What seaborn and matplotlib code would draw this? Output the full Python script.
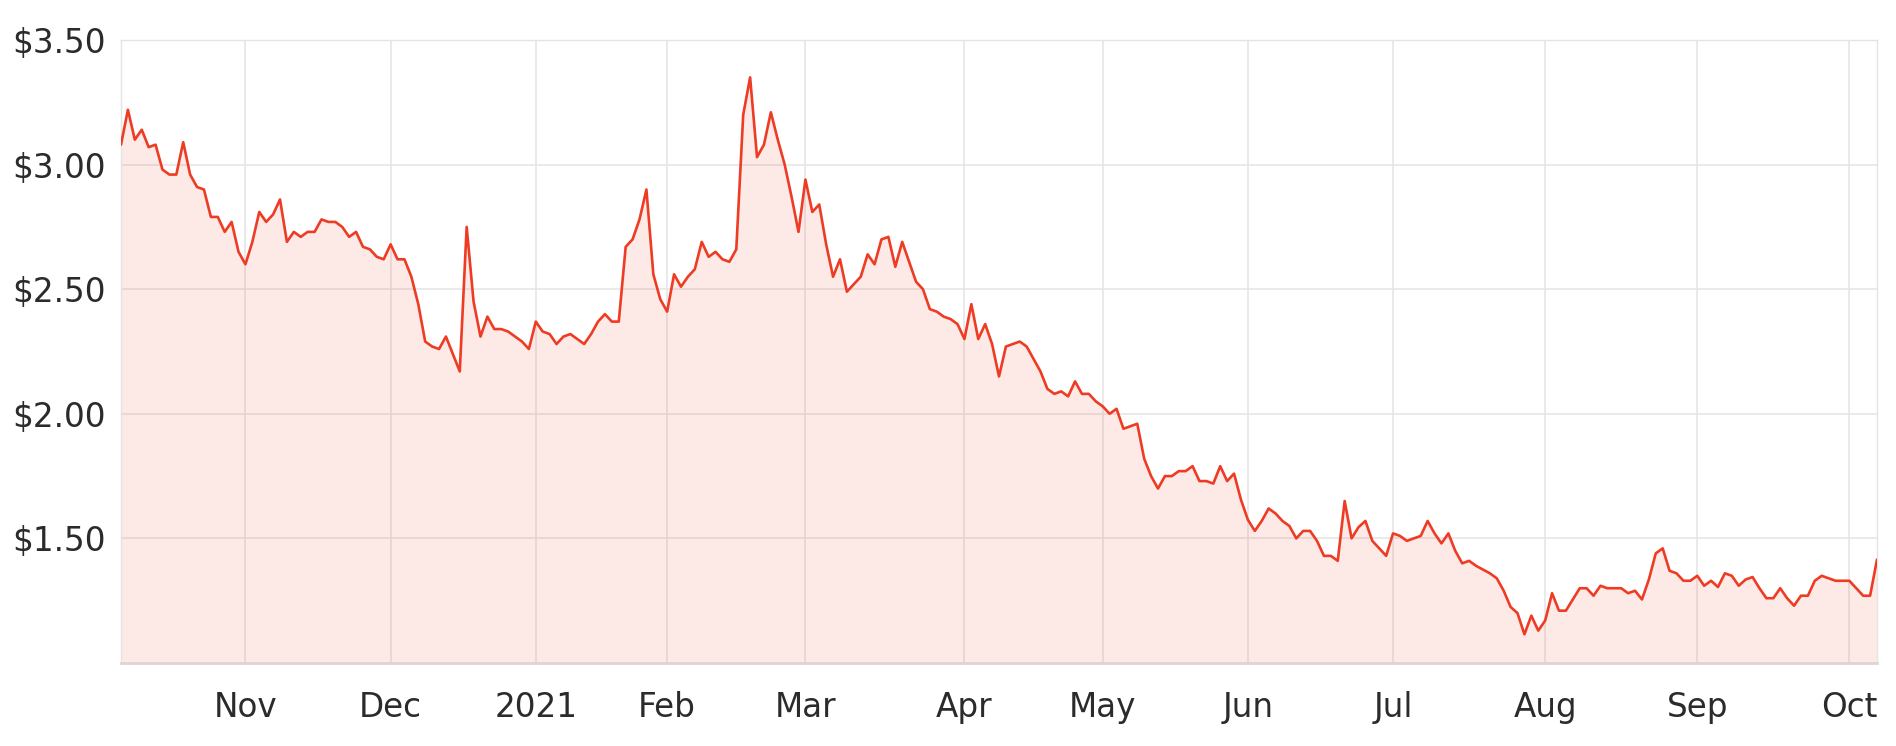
import numpy as np
import pandas as pd
import matplotlib
matplotlib.use("Agg")
import matplotlib.pyplot as plt
import seaborn as sns

# Daily closing prices (trading days), grouped by month
oct20 = [3.08, 3.22, 3.10, 3.14, 3.07, 3.08, 2.98, 2.96, 2.96, 3.09, 2.96, 2.91, 2.90, 2.79, 2.79, 2.73, 2.77, 2.65]
nov20 = [2.60, 2.69, 2.81, 2.77, 2.80, 2.86, 2.69, 2.73, 2.71, 2.73, 2.73, 2.78, 2.77, 2.77, 2.75, 2.71, 2.73, 2.67, 2.66, 2.63, 2.62]
dec20 = [2.68, 2.62, 2.62, 2.55, 2.44, 2.29, 2.27, 2.26, 2.31, 2.24, 2.17, 2.75, 2.45, 2.31, 2.39, 2.34, 2.34, 2.33, 2.31, 2.29, 2.26]
jan21 = [2.37, 2.33, 2.32, 2.28, 2.31, 2.32, 2.30, 2.28, 2.32, 2.37, 2.40, 2.37, 2.37, 2.67, 2.70, 2.78, 2.90, 2.56, 2.46]
feb21 = [2.41, 2.56, 2.51, 2.55, 2.58, 2.69, 2.63, 2.65, 2.62, 2.61, 2.66, 3.20, 3.35, 3.03, 3.08, 3.21, 3.10, 3.00, 2.87, 2.73]
mar21 = [2.94, 2.81, 2.84, 2.68, 2.55, 2.62, 2.49, 2.52, 2.55, 2.64, 2.60, 2.70, 2.71, 2.59, 2.69, 2.61, 2.53, 2.50, 2.42, 2.41, 2.39, 2.38, 2.36]
apr21 = [2.30, 2.44, 2.30, 2.36, 2.28, 2.15, 2.27, 2.28, 2.29, 2.27, 2.22, 2.17, 2.10, 2.08, 2.09, 2.07, 2.13, 2.08, 2.08, 2.05]
may21 = [2.03, 2.00, 2.02, 1.94, 1.95, 1.96, 1.82, 1.75, 1.70, 1.75, 1.75, 1.77, 1.77, 1.79, 1.73, 1.73, 1.72, 1.79, 1.73, 1.76, 1.655]
jun21 = [1.575, 1.53, 1.57, 1.62, 1.60, 1.57, 1.55, 1.50, 1.53, 1.53, 1.49, 1.43, 1.43, 1.41, 1.65, 1.50, 1.545, 1.57, 1.49, 1.46, 1.43]
jul21 = [1.52, 1.51, 1.49, 1.50, 1.51, 1.57, 1.52, 1.48, 1.52, 1.45, 1.40, 1.41, 1.39, 1.375, 1.36, 1.34, 1.29, 1.225, 1.20, 1.115, 1.19, 1.13]
aug21 = [1.17, 1.28, 1.21, 1.21, 1.255, 1.30, 1.30, 1.27, 1.31, 1.30, 1.30, 1.30, 1.28, 1.29, 1.255, 1.335, 1.44, 1.46, 1.37, 1.36, 1.33, 1.33]
sep21 = [1.35, 1.31, 1.33, 1.305, 1.36, 1.35, 1.31, 1.335, 1.345, 1.30, 1.26, 1.26, 1.30, 1.26, 1.23, 1.27, 1.27, 1.33, 1.35, 1.34, 1.33, 1.33]
oct21 = [1.33, 1.30, 1.27, 1.27, 1.415]

holidays = ["2020-12-25", "2020-12-28", "2021-01-01", "2021-01-26",
            "2021-04-02", "2021-04-05", "2021-06-14"]
y_ticks = [1.5, 2.0, 2.5, 3.0, 3.5]

prices = (oct20 + nov20 + dec20 + jan21 + feb21 + mar21 + apr21 + may21
          + jun21 + jul21 + aug21 + sep21 + oct21)
dates = pd.bdate_range("2020-10-07", "2021-10-07", freq="C", holidays=holidays)
n = min(len(dates), len(prices))
df = pd.DataFrame({"date": dates[:n], "price": prices[:n]})
df["idx"] = np.arange(n)

# month tick positions (first trading day of each month)
tick_pos, tick_lab = [], []
prev = df["date"].iloc[0].month
for i, d in zip(df["idx"], df["date"]):
    if d.month != prev:
        tick_pos.append(i)
        tick_lab.append("2021" if d.month == 1 else d.strftime("%b"))
        prev = d.month

sns.set_theme(style="whitegrid")
plt.rcParams["font.family"] = ["DejaVu Sans"]

fig = plt.figure(figsize=(18.96, 7.46), dpi=100)
ax = fig.add_axes([121 / 1896, 1 - 663 / 746, (1877 - 121) / 1896, (663 - 40) / 746])

line_c = "#ee3b24"
ax.fill_between(df["idx"], df["price"], 1.0, color=line_c, alpha=0.11, linewidth=0, zorder=2)
sns.lineplot(data=df, x="idx", y="price", ax=ax, color=line_c, linewidth=1.9, zorder=3)

ax.set_xlim(0, n - 1)
ax.set_ylim(1.0, 3.5)
ax.set_yticks(y_ticks)
ax.set_yticklabels([f"${v:.2f}" for v in y_ticks])
ax.set_xticks(tick_pos)
ax.set_xticklabels(tick_lab)
ax.set_xlabel("")
ax.set_ylabel("")

ax.grid(True, color="#e6e6e6", linewidth=1.2, zorder=1)
ax.set_axisbelow(True)
for s in ["left", "right", "top"]:
    ax.spines[s].set_color("#e4e4e4")
    ax.spines[s].set_linewidth(1.0)
ax.spines["bottom"].set_color("#ddd5d5")
ax.spines["bottom"].set_linewidth(2.0)

ax.tick_params(axis="y", labelsize=23.5, colors="#2b2b2b", pad=11, length=0)
ax.tick_params(axis="x", labelsize=23.5, colors="#2b2b2b", pad=20, length=0)

fig.savefig("out.png", dpi=100, facecolor="white")
